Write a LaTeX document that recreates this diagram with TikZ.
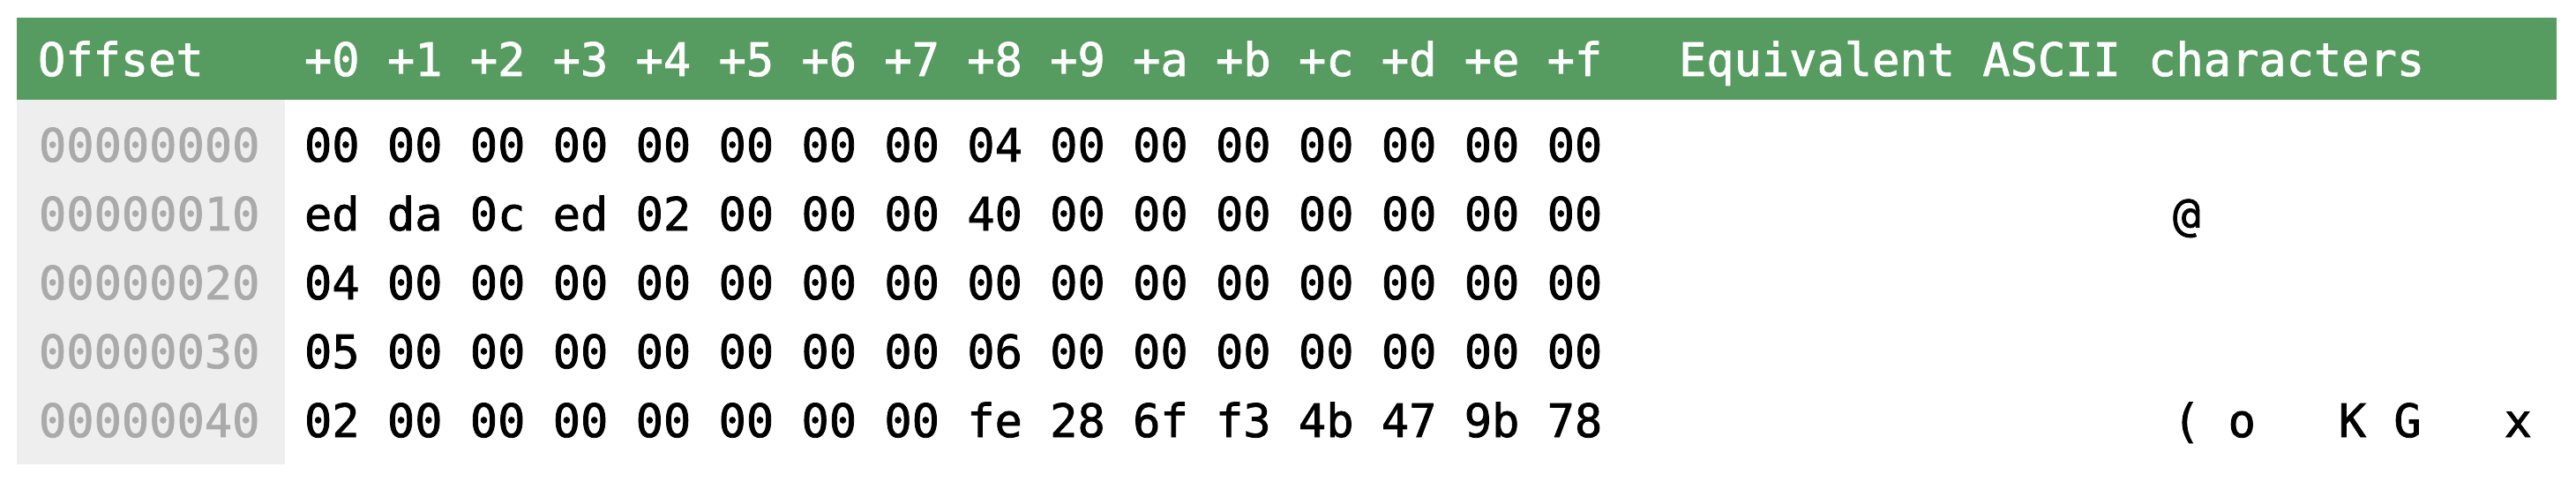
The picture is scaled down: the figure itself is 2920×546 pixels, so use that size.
\documentclass[tikz,border=0pt]{standalone}
\usepackage{fontspec}
\setmonofont[FakeBold=1.5]{DejaVu Sans Mono}
\definecolor{hdr}{RGB}{86,155,96}
\definecolor{offbg}{RGB}{238,238,238}
\definecolor{offtx}{RGB}{170,170,170}
\tikzset{
  mono/.style={inner sep=0pt, outer sep=0pt, anchor=base west,
    font=\fontsize{26pt}{26pt}\selectfont\ttfamily},
  hd/.style={mono, text=white},
  offcell/.style={mono, text=offtx},
  hexcell/.style={mono, text=black},
  asciicell/.style={mono, text=black}
}
\begin{document}
\begin{tikzpicture}[x=0.5pt,y=-0.5pt]
\useasboundingbox (0,0) rectangle (2920,546);
\fill[hdr] (19,20) rectangle (2898,113);
\fill[offbg] (19,113) rectangle (323,526);
\node[hd] (hoff) at (43,86) {Offset};
\node[hd] (hcols) at (345,86) {+0 +1 +2 +3 +4 +5 +6 +7 +8 +9 +a +b +c +d +e +f};
\node[hd] (hascii) at (1903,86) {Equivalent ASCII characters};
\foreach \r/\off/\hex in {
  0/00000000/{00 00 00 00 00 00 00 00 04 00 00 00 00 00 00 00},
  1/00000010/{ed da 0c ed 02 00 00 00 40 00 00 00 00 00 00 00},
  2/00000020/{04 00 00 00 00 00 00 00 00 00 00 00 00 00 00 00},
  3/00000030/{05 00 00 00 00 00 00 00 06 00 00 00 00 00 00 00},
  4/00000040/{02 00 00 00 00 00 00 00 fe 28 6f f3 4b 47 9b 78}} {
  \node[offcell] (off\r) at (44,183+78*\r) {\off};
  \node[hexcell] (hex\r) at (345,183+78*\r) {\hex};
}
\node[asciicell] (asc1) at (2463,261) {@};
\node[asciicell] (asc4) at (2463,495) {(\ o\ \ \ K\ G\ \ \ x};
\end{tikzpicture}
\end{document}
